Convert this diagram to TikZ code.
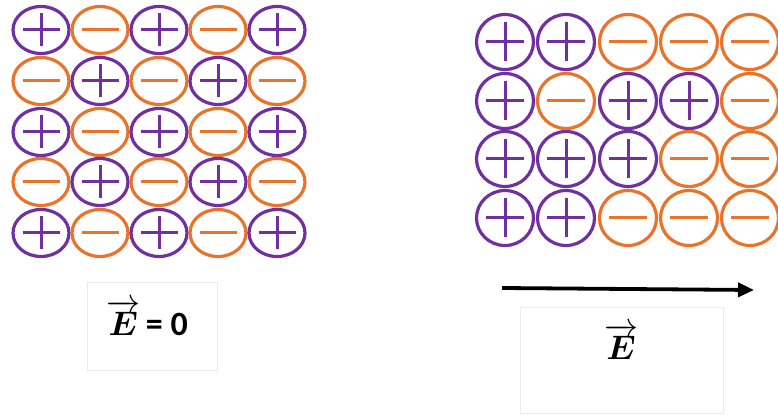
\RequirePackage{fix-cm}
\documentclass[tikz,border=0pt]{standalone}
\usepackage{amsmath,bm}
\usepackage{fontspec}
\newfontfamily\calib{Carlito}
\usetikzlibrary{shapes.geometric,arrows.meta}
\definecolor{pplcol}{HTML}{7030A0}
\definecolor{orgcol}{HTML}{E8732A}
\definecolor{boxcol}{HTML}{EBEBEB}
\tikzset{
  chg/.style={ellipse, line width=3.2pt, inner sep=0pt},
  leftsz/.style={minimum width=56pt, minimum height=47pt},
  rightsz/.style={minimum width=57pt, minimum height=55pt},
  poschg/.style={chg, draw=pplcol},
  negchg/.style={chg, draw=orgcol},
  plusline/.style={draw=pplcol, line width=3pt},
  minusline/.style={draw=orgcol, line width=3pt},
  lblbox/.style={draw=boxcol, line width=0.7pt, inner sep=0pt},
  fieldarrow/.style={line width=3.8pt, -{Triangle[length=16pt,width=14pt]}},
  lbltext/.style={font=\fontsize{34}{38}\selectfont, inner sep=0pt},
}
\newcommand\plusat[3]{\draw[plusline] ([xshift=-#2pt]#1.center) -- ([xshift=#2pt]#1.center) ([yshift=-#3pt]#1.center) -- ([yshift=#3pt]#1.center);}
\newcommand\minusat[2]{\draw[minusline] ([xshift=-#2pt]#1.center) -- ([xshift=#2pt]#1.center);}
\begin{document}
\begin{tikzpicture}[x=1pt,y=-1pt]
\useasboundingbox (0,0) rectangle (778,419);
% left lattice
\foreach \r/\yy in {1/30,2/81,3/132,4/182,5/233}{
  \foreach \c/\xx in {1/41,2/100,3/159,4/218,5/277}{
    \pgfmathtruncatemacro\parity{mod(\r+\c,2)}
    \ifnum\parity=0
      \node[poschg,leftsz] (L\r\c) at (\xx,\yy) {};
      \plusat{L\r\c}{18.5}{16.5}
    \else
      \node[negchg,leftsz] (L\r\c) at (\xx,\yy) {};
      \minusat{L\r\c}{18.5}
    \fi
  }
}
% right lattice
\foreach \c/\xx in {1/505,2/566,3/628,4/689,5/750}{
  \foreach \r/\yy in {1/42,2/101,3/159,4/218}{
    \coordinate (P\r\c) at (\xx,\yy);
  }
}
\foreach \n in {11,12,21,23,24,31,32,33,41,42}{
  \node[poschg,rightsz] (R\n) at (P\n) {};
  \plusat{R\n}{19}{19.5}
}
\foreach \n in {13,14,15,22,25,34,35,43,44,45}{
  \node[negchg,rightsz] (R\n) at (P\n) {};
  \minusat{R\n}{19}
}
% labels
\node[lblbox, minimum width=130pt, minimum height=88pt] (boxL) at (152,326) {};
\node[lbltext] (txtL) at (147,318) {$\overrightarrow{\bm{E}}$\,{\calib\bfseries = 0}};
\node[lblbox, minimum width=203pt, minimum height=106pt] (boxR) at (621.5,360) {};
\node[lbltext] (txtR) at (621,342) {$\overrightarrow{\bm{E}}$};
% field arrow
\coordinate (a1) at (502,288);
\coordinate (a2) at (754,290);
\draw[fieldarrow] (a1) -- (a2);
\end{tikzpicture}
\end{document}
